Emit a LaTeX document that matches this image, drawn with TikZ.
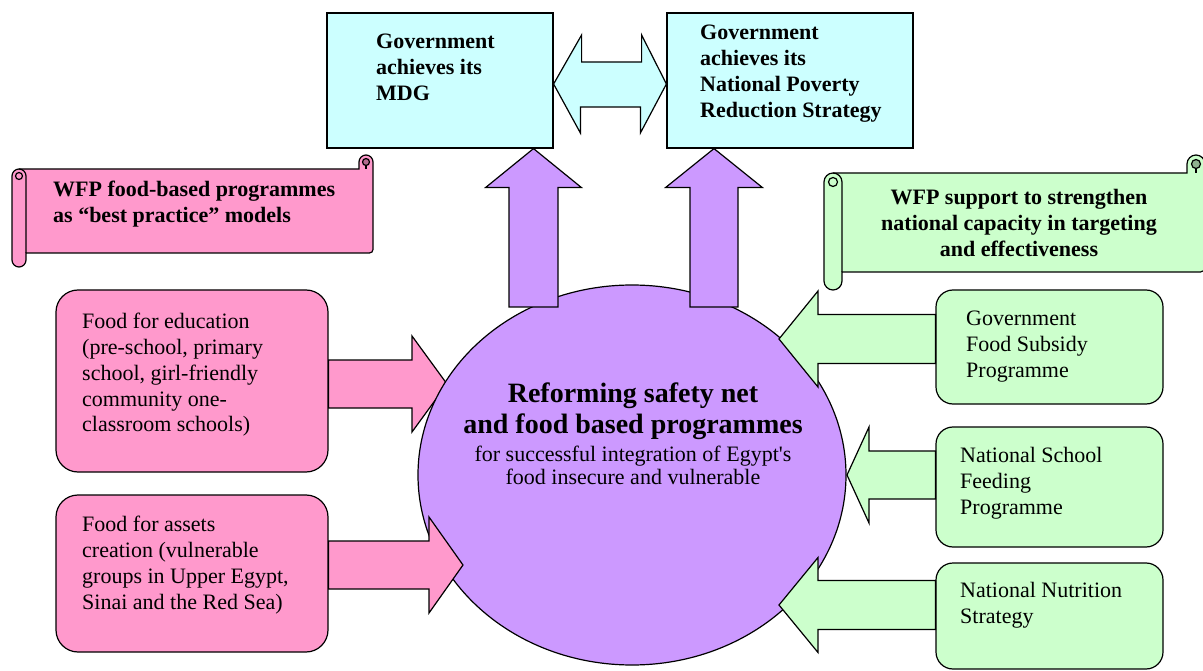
\documentclass[tikz,border=0pt]{standalone}
\usepackage{fontspec}
\setmainfont{Liberation Serif}[Ligatures=TeXOff]
\usetikzlibrary{calc,shapes.geometric}

\definecolor{pinkfill}{HTML}{FF99CC}
\definecolor{greenfill}{HTML}{CCFFCC}
\definecolor{cyanfill}{HTML}{CCFFFF}
\definecolor{purplefill}{HTML}{CC99FF}

\tikzset{
  outline/.style={draw=black, line width=1.2pt, line join=miter},
  goalbox/.style={outline, fill=cyanfill, rectangle, inner sep=0pt},
  wfpbox/.style={outline, fill=pinkfill, rectangle, rounded corners=22pt, inner sep=0pt},
  govbox/.style={outline, fill=greenfill, rectangle, rounded corners=17pt, inner sep=0pt},
  hubshape/.style={outline, fill=purplefill, ellipse, inner sep=0pt},
  pinkarrow/.style={outline, fill=pinkfill},
  greenarrow/.style={outline, fill=greenfill},
  purplearrow/.style={outline, fill=purplefill},
  cyanarrow/.style={outline, fill=cyanfill},
  scrolledge/.style={draw=black, line width=1.2pt},
  txt/.style={inner sep=0pt, anchor=base west, font=\fontsize{22}{26}\selectfont},
  btxt/.style={txt, font=\fontsize{22}{26}\selectfont\bfseries},
  ctxt/.style={txt, anchor=base},
  cbtxt/.style={btxt, anchor=base},
}

% left-aligned and centred blocks of lines, aligned on the first baseline
\newcommand\leftlines[1]{\parbox[t]{320pt}{\raggedright #1}}
\newcommand\midlines[2]{\parbox[t]{#1}{\centering #2}}

% block arrow: style, start, tip, shaft half width, head half width, head length
\newcommand\fatarrow[6]{%
  \coordinate (fa-s) at #2;
  \coordinate (fa-t) at #3;
  \coordinate (fa-h) at ($(fa-t)!#6!(fa-s)$);
  \draw[#1] ($(fa-s)!#4!90:(fa-t)$) -- ($(fa-h)!#4!-90:(fa-s)$)
    -- ($(fa-h)!#5!-90:(fa-s)$) -- (fa-t) -- ($(fa-h)!#5!90:(fa-s)$)
    -- ($(fa-h)!#4!90:(fa-s)$) -- ($(fa-s)!#4!-90:(fa-t)$) -- cycle;
}

% horizontal scroll banner: fill colour, left, top, right, bottom, roll size
\newcommand\scrollbanner[6]{%
  \filldraw[scrolledge, fill=#1] (#2,{#5-#6/2}) -- (#2,{#3+#6*1.5})
    arc[start angle=180, end angle=90, radius={#6pt/2}]
    -- ({#4-#6},{#3+#6}) -- ({#4-#6},{#3+#6/2})
    arc[start angle=180, end angle=0, radius={#6pt/2}]
    -- (#4,{#5-#6*1.25})
    arc[start angle=0, end angle=-90, radius={#6pt/4}]
    -- ({#2+#6},{#5-#6}) -- ({#2+#6},{#5-#6/2})
    arc[start angle=0, end angle=-180, radius={#6pt/2}] -- cycle;
  \draw[scrolledge] ({#2+#6/2},{#3+#6})
    arc[start angle=90, end angle=0, radius={#6pt/2}] -- ({#2+#6},{#5-#6});
  \draw[scrolledge] ({#2+#6/2},{#3+#6*1.5}) circle[radius={#6pt/4}];
  \filldraw[scrolledge, fill=#1!70!black] ({#4-#6/2},{#3+#6/2}) circle[radius={#6pt/4}];
  \draw[scrolledge] ({#4-#6/2},{#3+#6*0.75}) -- ({#4-#6/2},{#3+#6});
}

\begin{document}
\begin{tikzpicture}[x=1pt, y=-1pt]
\clip (0,0) rectangle (1203,671);
\fill[white] (0,0) rectangle (1203,671);

% banners
\scrollbanner{pinkfill}{12}{155}{373}{267}{14}
\scrollbanner{greenfill}{824}{155}{1205}{290}{18}

% goal boxes and the link between them
\node[goalbox, minimum width=226pt, minimum height=135pt] (mdg) at (440,80.5) {};
\node[goalbox, minimum width=246pt, minimum height=135pt] (nprs) at (790,80.5) {};
\draw[cyanarrow] (mdg.east |- 0,84) -- ++(28,-49) -- ++(0,27) -- ++(60,0) -- ++(0,-27)
  -- (nprs.west |- 0,84) -- ++(-26,49) -- ++(0,-26) -- ++(-60,0) -- ++(0,26) -- cycle;

% WFP programme boxes
\node[wfpbox, minimum width=272pt, minimum height=182pt] (edu) at (192,381) {};
\node[wfpbox, minimum width=272pt, minimum height=157pt] (assets) at (192,573.5) {};

% government programme boxes
\node[govbox, minimum width=227pt, minimum height=114pt] (subsidy) at (1049.5,347) {};
\node[govbox, minimum width=227pt, minimum height=120pt] (feeding) at (1049.5,487) {};
\node[govbox, minimum width=227pt, minimum height=106pt] (nutrition) at (1049.5,616) {};

% arrow from education box passes under the central ellipse
\fatarrow{pinkarrow}{(edu.east |- 0,384)}{(447,384)}{24pt}{48pt}{35pt}

% central ellipse
\node[hubshape, minimum width=428pt, minimum height=380pt] (hub) at (632,475) {};

% arrows into and out of the ellipse
\fatarrow{pinkarrow}{(assets.east |- 0,565)}{(463,565)}{24pt}{48pt}{34pt}
\fatarrow{greenarrow}{(subsidy.west |- 0,339)}{(779,339)}{24.5pt}{48pt}{39pt}
\fatarrow{greenarrow}{(feeding.west |- 0,475)}{(847,475)}{24pt}{48pt}{22pt}
\fatarrow{greenarrow}{(nutrition.west |- 0,605)}{(779,605)}{24.5pt}{47.5pt}{39pt}
\fatarrow{purplearrow}{(533.5,307)}{(533.5,0 |- mdg.south)}{24.5pt}{48pt}{39pt}
\fatarrow{purplearrow}{(714,307)}{(714,0 |- nprs.south)}{24pt}{48.5pt}{39pt}

% texts
\node[btxt] (mdgtext) at (376,49) {\leftlines{Government\\achieves its\\MDG}};
\node[btxt] (nprstext) at (700,40) {\leftlines{Government\\achieves its\\National Poverty\\Reduction Strategy}};
\node[btxt] (wfptitle) at (53,197) {\leftlines{WFP food-based programmes\\as “best practice” models}};
\node[cbtxt] (supporttitle) at (1019,205) {\midlines{360pt}{WFP support to strengthen\\national capacity in targeting\\and effectiveness}};
\node[txt] (edutext) at (82,328) {\leftlines{Food for education\\(pre-school, primary\\school, girl-friendly\\community one-\\classroom schools)}};
\node[txt] (assetstext) at (82,531) {\leftlines{Food for assets\\creation (vulnerable\\groups in Upper Egypt,\\Sinai and the Red Sea)}};
\node[txt] (subsidytext) at (966,325) {\leftlines{Government\\Food Subsidy\\Programme}};
\node[txt] (feedingtext) at (960,462) {\leftlines{National School\\Feeding\\Programme}};
\node[txt] (nutritiontext) at (960,597) {\leftlines{National Nutrition\\Strategy}};
\node[cbtxt, font=\fontsize{28}{31}\selectfont\bfseries] (hubtitle) at (633,402)
  {\midlines{420pt}{Reforming safety net\\and food based programmes}};
\node[ctxt, font=\fontsize{22}{23.5}\selectfont] (hubtext) at (633,461)
  {\midlines{420pt}{for successful integration of Egypt's\\food insecure and vulnerable}};
\end{tikzpicture}
\end{document}
